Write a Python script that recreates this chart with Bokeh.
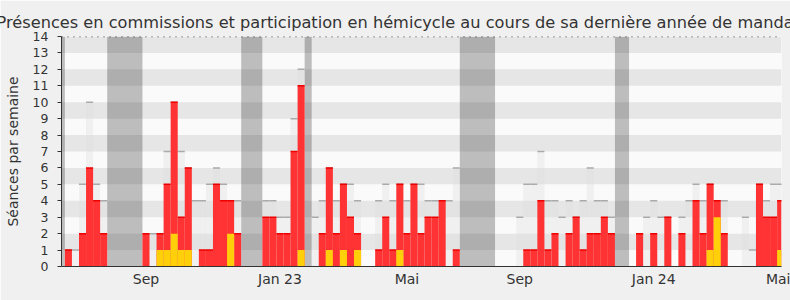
from bokeh.plotting import figure
from bokeh.models import ColumnDataSource, BoxAnnotation, Span, FixedTicker, Range1d
from bokeh.embed import file_html
from bokeh.resources import INLINE

# ---- data (one value per week) ----
total = [1, 1, 5, 10, 5, 4, 0, 0, 0, 0,
         0, 2, 2, 2, 7, 10, 7, 6, 4, 4,
         5, 6, 5, 4, 4, 0, 0, 0, 4, 4,
         3, 3, 9, 12, 0, 3, 4, 6, 4, 5,
         5, 4, 0, 0, 4, 5, 4, 5, 4, 5,
         5, 4, 4, 4, 4, 6, 0, 0, 0, 0,
         0, 0, 0, 0, 3, 5, 5, 7, 4, 4,
         3, 4, 3, 4, 6, 4, 4, 3, 0, 0,
         0, 2, 3, 4, 3, 3, 0, 3, 4, 5,
         4, 5, 4, 4, 0, 0, 3, 1, 5, 4,
         5, 5]
hemicycle = [1, 0, 2, 6, 4, 2, 0, 0, 0, 0,
             0, 2, 0, 2, 5, 10, 3, 6, 0, 1,
             1, 5, 4, 4, 2, 0, 0, 0, 3, 3,
             2, 2, 7, 11, 0, 0, 2, 6, 2, 5,
             3, 2, 0, 0, 1, 3, 1, 5, 2, 5,
             2, 3, 3, 4, 0, 1, 0, 0, 0, 0,
             0, 0, 0, 0, 0, 1, 1, 4, 1, 2,
             0, 2, 3, 1, 2, 2, 3, 2, 0, 0,
             0, 2, 0, 2, 0, 3, 0, 2, 0, 4,
             2, 5, 4, 2, 0, 0, 0, 0, 5, 3,
             3, 4]
commission = [0, 0, 0, 0, 0, 0, 0, 0, 0, 0,
              0, 0, 0, 1, 1, 2, 1, 1, 0, 0,
              0, 0, 0, 2, 0, 0, 0, 0, 0, 0,
              0, 0, 0, 1, 0, 0, 0, 1, 0, 1,
              0, 1, 0, 0, 0, 0, 0, 1, 0, 0,
              0, 0, 0, 0, 0, 0, 0, 0, 0, 0,
              0, 0, 0, 0, 0, 0, 0, 0, 0, 0,
              0, 0, 0, 0, 0, 0, 0, 0, 0, 0,
              0, 0, 0, 0, 0, 0, 0, 0, 0, 0,
              0, 1, 3, 0, 0, 0, 0, 0, 0, 0,
              0, 1]
vacances_debut = [-1.5, 5.5, 24.5, 33.5, 55.5, 77.5]
vacances_fin = [-0.5, 10.5, 27.5, 34.5, 60.5, 79.5]
tick_weeks = [11, 30, 48, 64, 83, 101]
tick_labels = ["Sep", "Jan 23", "Mai", "Sep", "Jan 24", "Mai"]
title_text = "Présences en commissions et participation en hémicycle au cours de sa dernière année de mandat"

weeks = list(range(len(total)))

FONT = "DejaVu Sans"

p = figure(width=790, height=300, output_backend="svg", toolbar_location=None,
           x_range=Range1d(-0.98, 101.12), y_range=Range1d(0, 14),
           min_border_left=61, min_border_right=9, min_border_top=36, min_border_bottom=34)

p.background_fill_color = "#fafafa"
p.border_fill_color = "#f0f0f0"
p.outline_line_color = None
p.grid.visible = False

# horizontal stripes
for k in range(1, 14, 2):
    p.add_layout(BoxAnnotation(bottom=k, top=k + 1, fill_color="#e6e6e6", fill_alpha=1.0,
                               line_color=None, level="underlay"))

# vacation bands
vac = ColumnDataSource(dict(left=vacances_debut, right=vacances_fin,
                            bottom=[0] * len(vacances_debut), top=[14] * len(vacances_debut)))
p.quad(left="left", right="right", bottom="bottom", top="top", source=vac,
       fill_color="black", fill_alpha=0.245, line_color=None)

src = ColumnDataSource(dict(x=weeks, total=total, hemi=hemicycle, comm=commission))

p.vbar(x="x", top="total", width=1, source=src, fill_color="#dcdcdc", fill_alpha=0.35, line_color=None)
tsrc = ColumnDataSource(dict(
    x0=[w - 0.5 for w, t in zip(weeks, total) if t > 0],
    x1=[w + 0.5 for w, t in zip(weeks, total) if t > 0],
    y=[t for t in total if t > 0]))
p.segment(x0="x0", y0="y", x1="x1", y1="y", source=tsrc, line_color="#aaaaaa", line_width=1.5)

p.vbar(x="x", top="hemi", width=1, source=src, fill_color="#ff3333", line_color=None)
rsrc = ColumnDataSource(dict(
    x0=[w - 0.5 for w, t in zip(weeks, hemicycle) if t > 0],
    x1=[w + 0.5 for w, t in zip(weeks, hemicycle) if t > 0],
    y=[t for t in hemicycle if t > 0]))
p.segment(x0="x0", y0="y", x1="x1", y1="y", source=rsrc, line_color="#ee0000", line_width=1.5)

p.vbar(x="x", top="comm", width=1, source=src, fill_color="#ffd00a", line_color=None)

p.add_layout(Span(location=14, dimension="width", line_color="#000000",
                  line_dash="1 5", line_width=1.5))

# axes
xa = p.xaxis[0]
xa.ticker = FixedTicker(ticks=tick_weeks)
xa.major_label_overrides = {w: l for w, l in zip(tick_weeks, tick_labels)}
xa.major_tick_out = 0
xa.major_tick_in = 0
xa.minor_tick_out = 0
xa.minor_tick_in = 0
xa.axis_line_color = "#333333"
xa.axis_line_width = 1
xa.major_label_text_font = FONT
xa.major_label_text_font_size = "14px"
xa.major_label_text_color = "#333333"
xa.major_label_standoff = 4

ya = p.yaxis[0]
ya.ticker = FixedTicker(ticks=list(range(0, 15)))
ya.major_tick_out = 4
ya.major_tick_in = 0
ya.minor_tick_out = 0
ya.minor_tick_in = 0
ya.axis_line_color = "#333333"
ya.major_tick_line_color = "#333333"
ya.major_label_text_font = FONT
ya.major_label_text_font_size = "12.5px"
ya.major_label_text_color = "#333333"
ya.major_label_standoff = 9
ya.axis_label = "Séances par semaine"
ya.axis_label_text_font = FONT
ya.axis_label_text_font_size = "14px"
ya.axis_label_text_font_style = "normal"
ya.axis_label_text_color = "#333333"
ya.axis_label_standoff = 9

p.title.text = title_text
p.title.text_font = FONT
p.title.text_font_size = "16.2px"
p.title.text_font_style = "normal"
p.title.text_color = "#333333"
p.title.align = "left"
p.title.offset = -65

open("out.html", "w").write(file_html(p, INLINE))
